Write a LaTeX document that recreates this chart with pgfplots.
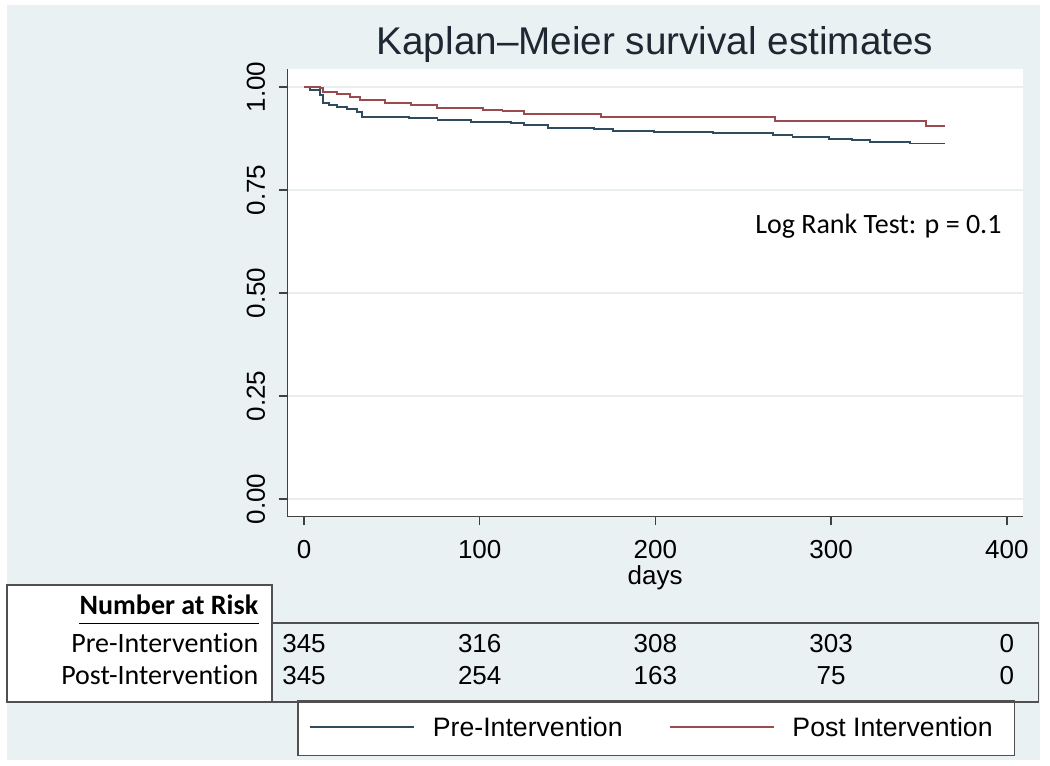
\documentclass[border=0pt]{standalone}
\usepackage{pgfplots}
\pgfplotsset{compat=1.18}
\usepackage{fontspec}
\setmainfont{Liberation Sans}
\newfontfamily\calibri[Ligatures=NoCommon]{Carlito}
\definecolor{bg}{HTML}{EAF1F3}
\definecolor{axcol}{HTML}{404040}
\definecolor{gridcol}{HTML}{E9EEF0}
\definecolor{boxcol}{HTML}{505050}
\definecolor{precol}{HTML}{2E4B5F}
\definecolor{postcol}{HTML}{9A4B4E}
\definecolor{titlecol}{HTML}{1E2833}
\newcommand\ticksz{\fontsize{19.5pt}{23pt}\selectfont}
\newcommand\legsz{\fontsize{20pt}{24pt}\selectfont}
\newcommand\calsz{\calibri\fontsize{21pt}{25pt}\selectfont}
\begin{document}
\begin{tikzpicture}
\begin{scope}[x=0.75pt,y=-0.75pt]
\path[use as bounding box] (0,0) rectangle (1050,766);
\fill[white] (0,0) rectangle (1050,766);
\fill[bg] (7,5) rectangle (1040,760);
\end{scope}
\begin{axis}[
  at={(215.475pt,-387.525pt)}, anchor=south west,
  scale only axis, width=551.775pt, height=335.775pt,
  xmin=-9.5, xmax=409.2, ymin=-0.043, ymax=1.044,
  axis x line*=bottom, axis y line*=left,
  axis line style={draw=axcol, line width=1.1pt, -},
  axis background/.style={fill=white},
  xtick={0,100,200,300,400}, xticklabels={0,100,200,300,400},
  ytick={0,0.25,0.5,0.75,1}, yticklabels={0.00,0.25,0.50,0.75,1.00},
  tick align=outside, major tick length=6.5pt,
  tick style={draw=axcol, line width=1.1pt},
  ymajorgrids, grid style={draw=gridcol, line width=1.1pt},
  xticklabel style={font=\ticksz, anchor=north, inner sep=0pt},
  xticklabel shift=11pt,
  yticklabel style={font=\ticksz, rotate=90, anchor=south, inner sep=0pt},
  yticklabel shift=10pt,
  xlabel={days},
  xlabel style={font=\ticksz, at={(axis description cs:0.5,0)}, anchor=base, yshift=-50.5pt, inner sep=0pt},
  legend image code/.code={\draw[#1, line width=1.4pt] (0pt,7.5pt) -- (78pt,7.5pt);},
  legend columns=2,
  legend style={at={(0.0136,-0.4094)}, anchor=north west, draw=boxcol, line width=1.1pt, fill=white,
    inner xsep=8.25pt, inner ysep=12.5pt, font=\legsz,
    nodes={inner sep=0pt}, cells={anchor=base west},
    /tikz/every odd column/.append style={column sep=13.5pt},
    /tikz/every even column/.append style={column sep=34.5pt}},
]
\addplot[const plot, color=precol, line width=1.4pt] coordinates {
(0,1.000) (3.4,0.992) (9.1,0.980) (11,0.962) (14,0.957) (18.6,0.952) (24.3,0.946) (30,0.940)
(32.8,0.928) (60,0.925) (76,0.920) (95,0.916) (118,0.913) (125,0.908) (139,0.901) (165,0.898)
(176,0.894) (199,0.892) (233,0.888) (267,0.883) (278,0.878) (299,0.875) (312,0.871) (322,0.867)
(345,0.863) (365,0.863)};
\addlegendentry{Pre-Intervention}
\addplot[const plot, color=postcol, line width=1.4pt] coordinates {
(0,1.000) (9,0.997) (11,0.989) (18.8,0.983) (26.2,0.976) (31.9,0.968) (46,0.961) (61,0.957)
(75.9,0.949) (102,0.945) (113,0.941) (125,0.934) (169,0.928) (268,0.917) (354,0.905) (365,0.905)};
\addlegendentry{Post Intervention\rule{8pt}{0pt}}
\end{axis}
\begin{scope}[x=0.75pt,y=-0.75pt]
\node[anchor=base, font=\fontsize{29pt}{34pt}\selectfont, text=titlecol, inner sep=0pt] at (655,55) {Kaplan–Meier survival estimates};
\node[anchor=base west, font=\calsz, inner sep=0pt] at (755,233.3) {Log Rank Test: p = 0.1};
% number at risk table
\draw[boxcol, line width=1.1pt, fill=white] (7,585) rectangle (272,702);
\draw[boxcol, line width=1.1pt] (272,623) rectangle (1038.6,702);
\node[anchor=base east, font=\calsz\bfseries, inner sep=0pt] (nar) at (258.5,614) {Number at Risk};
\draw[line width=1pt] ([yshift=-7pt]nar.base west) -- ([yshift=-7pt]nar.base east);
\node[anchor=base east, font=\calsz, inner sep=0pt] at (258.5,652.6) {Pre-Intervention};
\node[anchor=base east, font=\calsz, inner sep=0pt] at (258.5,684.7) {Post-Intervention};
\foreach \x/\a/\b in {304/345/345, 479.7/316/254, 655.4/308/163, 831.1/303/75, 1006.8/0/0} {
  \node[anchor=base, font=\ticksz, inner sep=0pt] at (\x,652.6) {\a};
  \node[anchor=base, font=\ticksz, inner sep=0pt] at (\x,684.7) {\b};
}
\end{scope}
\end{tikzpicture}
\end{document}
